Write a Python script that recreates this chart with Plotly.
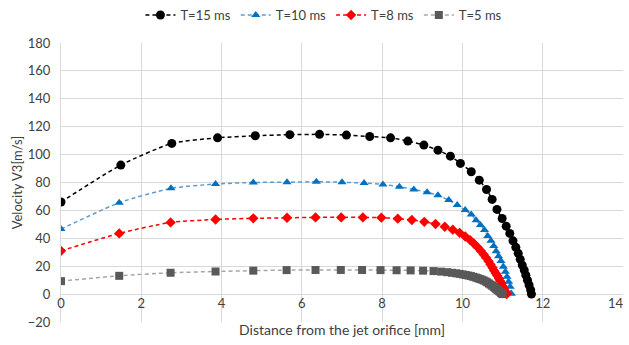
import plotly.graph_objects as go

# T=15 ms
x15 = [0, 1.49, 2.76, 3.90, 4.84, 5.70, 6.44, 7.11, 7.69, 8.21, 8.64, 9.04, 9.39, 9.70, 9.95,
       10.22, 10.42, 10.60, 10.74, 10.86, 10.99, 11.09, 11.18, 11.26, 11.33, 11.39, 11.44,
       11.49, 11.54, 11.58, 11.62, 11.66, 11.70, 11.72]
y15 = [66, 92.5, 108, 112, 113.5, 114.3, 114.5, 114, 113, 112, 109.7, 106.8, 103.2, 98.9, 93.7,
       87.7, 81.7, 75, 67.9, 60.7, 54.2, 48.7, 43.5, 38.2, 33.5, 29.2, 24.9,
       20.8, 17.2, 13.6, 10, 6.5, 2.9, 0]

# T=10 ms
x10 = [0, 1.45, 2.74, 3.85, 4.79, 5.63, 6.36, 7.00, 7.55, 8.02, 8.43, 8.79, 9.12, 9.39, 9.66,
       9.87, 10.07, 10.22, 10.34, 10.45, 10.55, 10.63, 10.71, 10.78, 10.84, 10.90, 10.96,
       11.02, 11.07, 11.11, 11.15, 11.19, 11.22]
y10 = [46.6, 65.5, 75.8, 78.9, 80.0, 80.2, 80.5, 80.2, 79.6, 78.6, 76.9, 75.0, 73.0, 70.8, 67.4,
       63.8, 60.2, 57.1, 53.0, 49.5, 45.9, 41.6, 38.2, 34.4, 30.8, 27.2, 23.7,
       19.6, 16.0, 12.4, 8.8, 5.2, 0.3]

# T=8 ms
x8 = [0, 1.45, 2.73, 3.85, 4.79, 5.63, 6.34, 6.98, 7.52, 7.98, 8.39, 8.74, 9.05, 9.33, 9.56,
      9.76, 9.93, 10.07, 10.19, 10.29, 10.38, 10.46, 10.53, 10.59, 10.65, 10.70, 10.75,
      10.79, 10.83, 10.87, 10.91, 10.94, 10.97, 11.00, 11.03, 11.06, 11.08, 11.10]
y8 = [31, 43.5, 51.4, 53.5, 54.3, 54.7, 55, 55, 55, 54.8, 54.1, 53.1, 51.8, 50.2, 48.3,
      46.2, 43.9, 41.3, 38.7, 36.1, 33.5, 30.9, 28.4, 26.0, 23.5, 21.2, 18.9,
      16.8, 15.0, 13.1, 11.2, 9.4, 7.6, 5.8, 4.0, 2.2, 1.0, 0]

# T=5 ms
x5 = [0, 1.45, 2.73, 3.85, 4.79, 5.62, 6.34, 6.97, 7.50, 7.96, 8.36, 8.71, 9.02, 9.28, 9.47,
      9.62, 9.74, 9.84, 9.93, 10.01, 10.08, 10.15, 10.21, 10.27, 10.33, 10.38, 10.43, 10.48,
      10.53, 10.58, 10.62, 10.66, 10.70, 10.74, 10.78, 10.81, 10.84, 10.87, 10.90, 10.93,
      10.96, 10.98, 11.00]
y5 = [9.3, 13.1, 15.3, 16.2, 16.8, 17.2, 17.3, 17.3, 17.3, 17.2, 17.1, 17.0, 16.8, 16.5, 16.1,
      15.7, 15.3, 14.9, 14.5, 14.1, 13.7, 13.3, 12.9, 12.4, 11.9, 11.4, 10.9, 10.4,
      9.8, 9.1, 8.4, 7.6, 6.8, 6.0, 5.2, 4.5, 3.8, 3.1, 2.4, 1.7,
      1.0, 0.5, 0]

series_names = ["T=15 ms", "T=10 ms", "T=8 ms", "T=5 ms"]

x_tick_vals = [0, 2, 4, 6, 8, 10, 12, 14]
x_tick_text = ["0", "2", "4", "6", "8", "10", "12", "14"]

FONT = "Lato"
TXT = "#404040"
fig = go.Figure()
specs = [
    (x15, y15, series_names[0], "#000000", "#000000", "circle", 9, "x"),
    (x10, y10, series_names[1], "#5b9bd5", "#0070c0", "triangle-up", 8, "x"),
    (x8, y8, series_names[2], "#ff0000", "#ff0000", "diamond", 8, "x"),
    (x5, y5, series_names[3], "#a6a6a6", "#595959", "square", 8, "x2"),
]
for xs, ys, nm, lc, mc, sym, ms, xa in specs:
    fig.add_trace(go.Scatter(
        x=xs, y=ys, name=nm, mode="lines+markers", xaxis=xa, yaxis="y",
        line=dict(color=lc, width=1.5, dash="4px,3px", shape="spline", smoothing=0.6),
        marker=dict(color=mc, symbol=sym, size=ms, line=dict(width=0)),
    ))

fig.update_layout(
    width=629, height=345,
    margin=dict(l=61, r=6, t=43, b=23),
    paper_bgcolor="white", plot_bgcolor="white",
    font=dict(family=FONT, size=13, color=TXT),
    legend=dict(orientation="h", x=0.515, xanchor="center", xref="container",
                y=1.0, yanchor="top", yref="container",
                font=dict(family=FONT, size=13, color=TXT),
                itemwidth=30, tracegroupgap=0),
    showlegend=True,
)

common_x = dict(range=[0, 14], anchor="free", position=0.1, ticks="",
                zeroline=False, showline=False, ticklabeloverflow="allow",
                tickfont=dict(family=FONT, size=13, color=TXT), automargin=False)

fig.update_layout(
    xaxis=dict(
        **common_x,
        tickmode="array", tickvals=x_tick_vals[:-1], ticktext=x_tick_text[:-1],
        showgrid=True, gridcolor="#d9d9d9", gridwidth=1,
        title=dict(text="Distance from the jet orifice [mm]", standoff=15,
                   font=dict(family=FONT, size=14, color=TXT)),
    ),
    # last tick label kept inside the page (right-aligned at its gridline, as in the reference)
    xaxis2=dict(
        **common_x,
        overlaying="x", matches="x",
        tickmode="array", tickvals=x_tick_vals[-1:], ticktext=x_tick_text[-1:],
        ticklabelposition="outside left",
        showgrid=True, gridcolor="#d9d9d9", gridwidth=1,
    ),
    yaxis=dict(
        range=[-20, 180], dtick=20, tick0=0,
        showgrid=True, gridcolor="#d9d9d9", gridwidth=1,
        zeroline=False, showline=True, linecolor="#d9d9d9", linewidth=1,
        ticks="", ticklabelstandoff=7,
        tickfont=dict(family=FONT, size=13, color=TXT),
        title=dict(text="Velocity V3[m/s]", standoff=2,
                   font=dict(family=FONT, size=13, color=TXT)),
        automargin=False,
    ),
)

fig.write_html("out.html")
